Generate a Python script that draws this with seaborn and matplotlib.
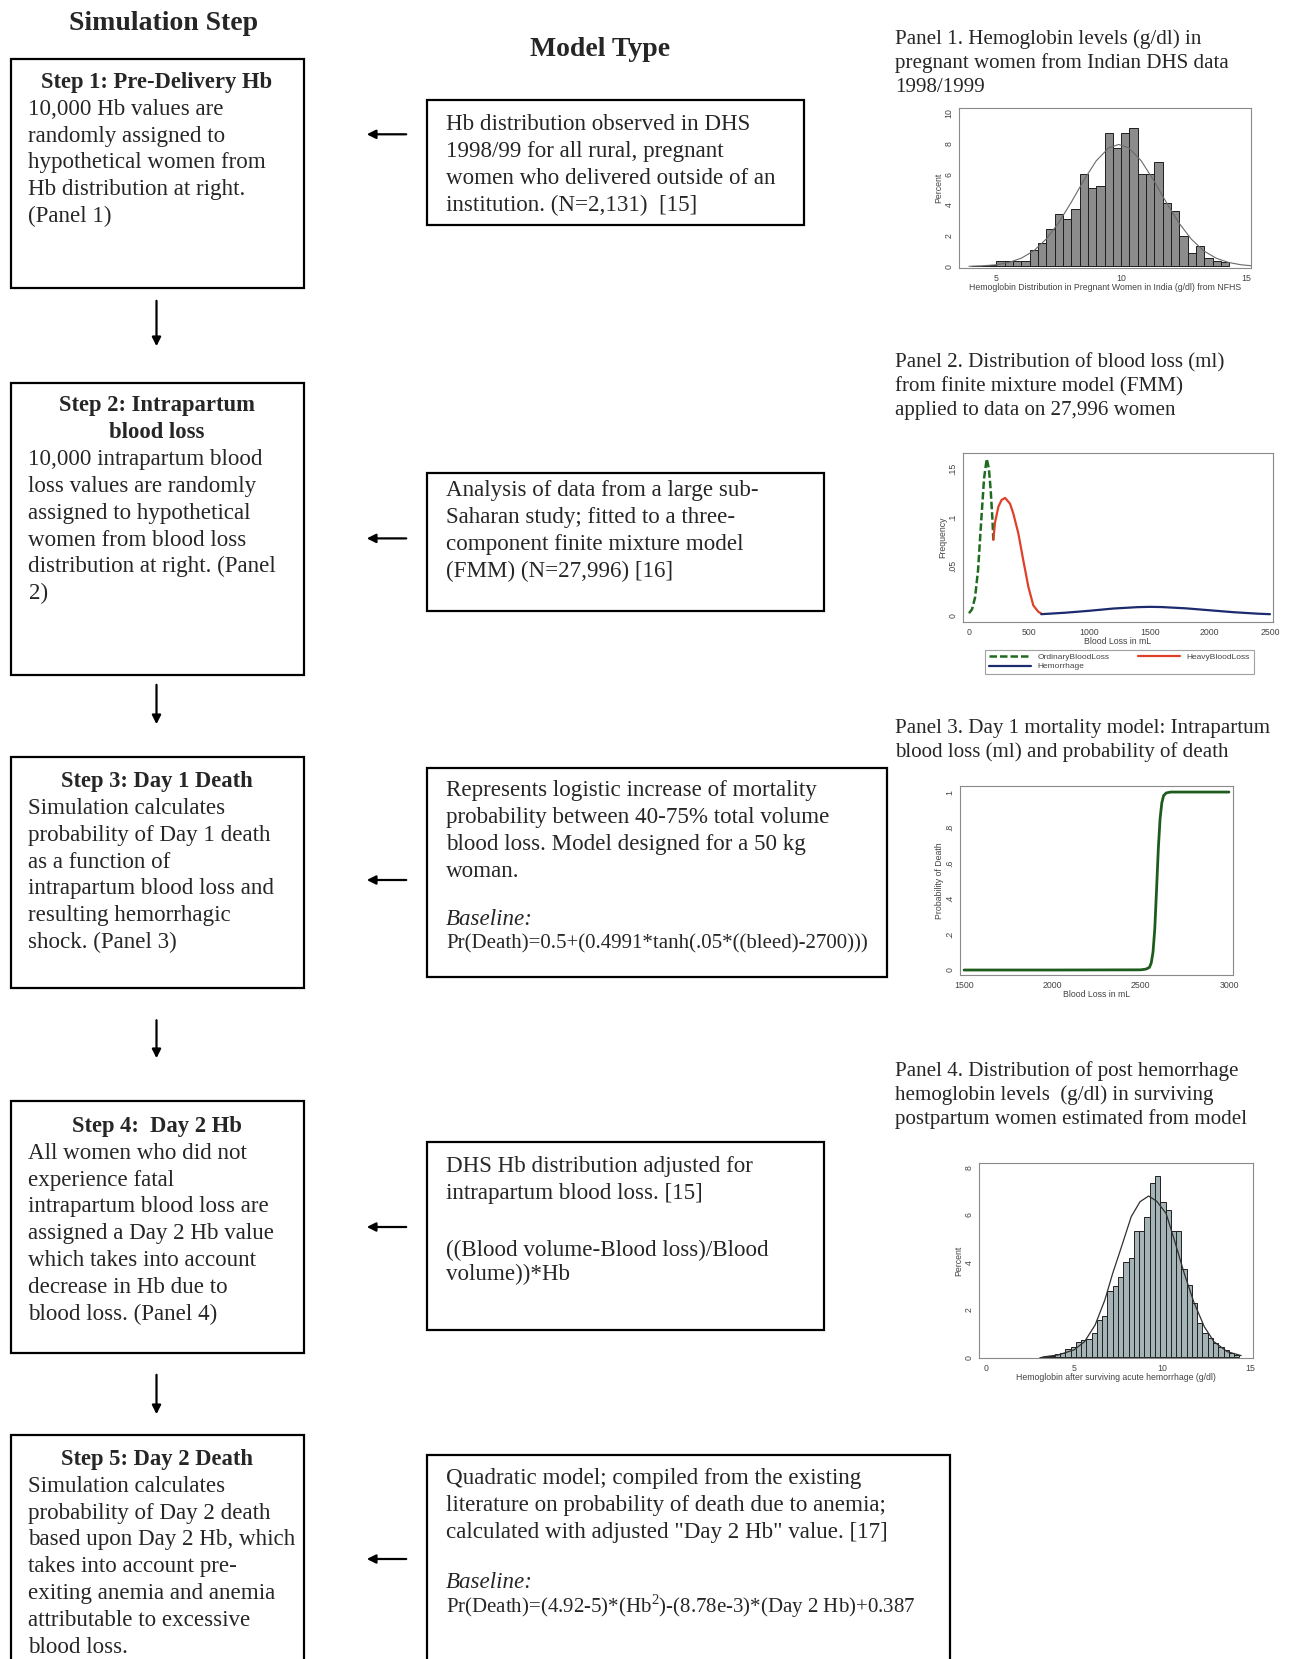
import numpy as np
import matplotlib
matplotlib.use("Agg")
import matplotlib.pyplot as plt
from matplotlib.patches import Rectangle, FancyArrowPatch
from matplotlib.lines import Line2D
import seaborn as sns

# Canvas size in pixels (dpi 100)
W, H = 1302, 1659

# Panel 1: Hb in pregnant women (percent per 1/3 g/dl bin)
p1_bin_left = [4.0, 4.33, 4.67, 5.0, 5.33, 5.67, 6.0, 6.33, 6.67, 7.0, 7.33, 7.67,
               8.0, 8.33, 8.67, 9.0, 9.33, 9.67, 10.0, 10.33, 10.67, 11.0, 11.33,
               11.67, 12.0, 12.33, 12.67, 13.0, 13.33, 13.67, 14.0]
p1_percent = [0.05, 0.05, 0.1, 0.35, 0.35, 0.35, 0.35, 1.05, 1.5, 2.45, 3.4, 3.1,
              3.75, 6.0, 5.1, 5.2, 8.65, 7.7, 8.65, 9.0, 6.0, 6.0, 6.8,
              4.1, 3.6, 2.0, 0.9, 1.3, 0.55, 0.35, 0.3]
p1_curve_x = [3.9, 4.5, 5.0, 5.5, 6.0, 6.5, 7.0, 7.5, 8.0, 8.5, 9.0, 9.5, 9.9,
              10.3, 10.8, 11.3, 11.8, 12.3, 12.8, 13.3, 13.8, 14.3, 14.8, 15.2]
p1_curve_y = [0.01, 0.05, 0.11, 0.26, 0.54, 1.02, 1.79, 2.86, 4.18, 5.6, 6.87, 7.71, 7.93,
              7.71, 6.87, 5.6, 4.18, 2.86, 1.79, 1.02, 0.54, 0.26, 0.11, 0.05]

# Panel 2: finite mixture model components
ordinary_x = [0, 25, 50, 75, 100, 125, 147, 165, 180, 195, 202]
ordinary_y = [0.002, 0.006, 0.018, 0.046, 0.094, 0.14, 0.16, 0.15, 0.128, 0.097, 0.077]
heavy_x = [202, 216, 244, 271, 300, 341, 368, 410, 451, 493, 534, 576, 600]
heavy_y = [0.077, 0.095, 0.111, 0.118, 0.12, 0.114, 0.104, 0.0835, 0.056, 0.029, 0.010, 0.0034, 0.0017]
hemorrhage_x = [600, 800, 1000, 1200, 1400, 1500, 1600, 1800, 2000, 2200, 2400, 2500]
hemorrhage_y = [0.001, 0.0025, 0.0045, 0.0068, 0.0082, 0.0085, 0.0083, 0.007, 0.005, 0.003, 0.0015, 0.001]

# Panel 3: day 1 probability of death vs blood loss
p3_loss = [1500, 2000, 2500, 2530, 2550, 2560, 2570, 2580, 2590, 2600, 2610, 2620, 2630, 2645, 2670, 3000]
p3_prob = [0, 0, 0.001, 0.005, 0.015, 0.04, 0.1, 0.23, 0.45, 0.68, 0.85, 0.94, 0.98, 0.995, 1.0, 1.0]

# Panel 4: post hemorrhage Hb (percent per 0.3 g/dl bin)
p4_bin_left = [3.0, 3.3, 3.6, 3.9, 4.2, 4.5, 4.8, 5.1, 5.4, 5.7, 6.0, 6.3, 6.6, 6.9, 7.2,
               7.5, 7.8, 8.1, 8.4, 8.7, 9.0, 9.3, 9.6, 9.9, 10.2, 10.5, 10.8, 11.1,
               11.4, 11.7, 12.0, 12.3, 12.6, 12.9, 13.2, 13.5, 13.8, 14.1]
p4_percent = [0.02, 0.04, 0.07, 0.13, 0.2, 0.34, 0.45, 0.66, 0.73, 0.76, 1.04, 1.58, 1.75,
              2.8, 3.0, 3.38, 4.0, 4.2, 5.33, 5.33, 5.92, 7.35, 7.63, 6.55, 6.2, 5.33,
              5.33, 3.7, 3.05, 2.27, 1.43, 1.01, 0.8, 0.62, 0.45, 0.31, 0.2, 0.1]
p4_curve_x = [3.2, 4.1, 5.0, 5.6, 6.2, 6.75, 7.2, 7.7, 8.25, 8.75, 9.24, 9.7,
              10.23, 10.7, 11.26, 11.8, 12.4, 12.95, 13.7, 14.5]
p4_curve_y = [0.01, 0.1, 0.31, 0.66, 1.36, 2.41, 3.54, 4.66, 5.92, 6.55, 6.79, 6.57,
              6.06, 4.94, 3.54, 2.34, 1.29, 0.66, 0.24, 0.07]

# Flowchart texts
step_titles = [
    ["Step 1: Pre-Delivery Hb"],
    ["Step 2: Intrapartum", "blood loss"],
    ["Step 3: Day 1 Death"],
    ["Step 4:  Day 2 Hb"],
    ["Step 5: Day 2 Death"],
]
step_bodies = [
    ["10,000 Hb values are", "randomly assigned to", "hypothetical women from",
     "Hb distribution at right.", "(Panel 1)"],
    ["10,000 intrapartum blood", "loss values are randomly", "assigned to hypothetical",
     "women from blood loss", "distribution at right. (Panel", "2)"],
    ["Simulation calculates", "probability of Day 1 death", "as a function of",
     "intrapartum blood loss and", "resulting hemorrhagic", "shock. (Panel 3)"],
    ["All women who did not", "experience fatal", "intrapartum blood loss are",
     "assigned a Day 2 Hb value", "which takes into account", "decrease in Hb due to",
     "blood loss. (Panel 4)"],
    ["Simulation calculates", "probability of Day 2 death", "based upon Day 2 Hb, which",
     "takes into account pre-", "exiting anemia and anemia", "attributable to excessive",
     "blood loss."],
]
model_texts = [
    ["Hb distribution observed in DHS", "1998/99 for all rural, pregnant",
     "women who delivered outside of an", "institution. (N=2,131)  [15]"],
    ["Analysis of data from a large sub-", "Saharan study; fitted to a three-",
     "component finite mixture model", "(FMM) (N=27,996) [16]"],
    ["Represents logistic increase of mortality", "probability between 40-75% total volume",
     "blood loss. Model designed for a 50 kg", "woman."],
    ["DHS Hb distribution adjusted for", "intrapartum blood loss. [15]"],
    ["Quadratic model; compiled from the existing",
     "literature on probability of death due to anemia;",
     "calculated with adjusted \"Day 2 Hb\" value. [17]"],
]
model_extra = [
    [],
    [],
    [("Baseline:", "italic"), ("Pr(Death)=0.5+(0.4991*tanh(.05*((bleed)-2700)))", "normal")],
    [("((Blood volume-Blood loss)/Blood", "normal"), ("volume))*Hb", "normal")],
    [("Baseline:", "italic"), ("Pr(Death)=(4.92-5)*(Hb$^{2}$)-(8.78e-3)*(Day 2 Hb)+0.387", "normal")],
]
panel_titles = [
    ["Panel 1. Hemoglobin levels (g/dl) in", "pregnant women from Indian DHS data", "1998/1999"],
    ["Panel 2. Distribution of blood loss (ml)", "from finite mixture model (FMM)",
     "applied to data on 27,996 women"],
    ["Panel 3. Day 1 mortality model: Intrapartum", "blood loss (ml) and probability of death"],
    ["Panel 4. Distribution of post hemorrhage", "hemoglobin levels  (g/dl) in surviving",
     "postpartum women estimated from model"],
]

# Layout (pixel coordinates, y down)
STEP_BOXES = [(10.6, 59, 303.5, 288), (10.6, 383, 303.5, 675), (10.6, 757, 303.5, 988),
              (10.6, 1101, 303.5, 1353), (10.6, 1435, 303.5, 1680)]
STEP_TITLE_Y = [82.5, 406, 781.6, 1126.5, 1459.6]
MODEL_BOXES = [(427, 100, 804, 225), (427, 473, 824, 611), (427, 768, 887, 977),
               (427, 1142, 824, 1330), (427, 1455, 950, 1680)]
MODEL_TEXT_Y = [124.8, 490.8, 791, 1166.6, 1478.6]
MODEL_EXTRA_Y = [0, 0, 920, 1250, 1582.5]
LEFT_ARROW_Y = [134.3, 538.4, 880, 1227, 1559]
DOWN_ARROWS = [(298, 349), (682, 727), (1017.5, 1061), (1372, 1417)]
PANEL_TITLE_Y = [39, 363, 728, 1071]
PANEL_TITLE_X = 895
LINE = 26.8

SERIF = ["Liberation Serif", "DejaVu Serif"]
SANS = ["Liberation Sans", "DejaVu Sans"]


def fx(x):
    return x / W


def fy(y):
    return 1 - y / H


def put(fig, x, y, s, **kw):
    fig.text(fx(x), fy(y), s, va="center", family=SERIF, **kw)


def draw_box(fig, box):
    x0, y0, x1, y1 = box
    fig.add_artist(Rectangle((fx(x0), fy(y1)), (x1 - x0) / W, (y1 - y0) / H,
                             transform=fig.transFigure, fill=False, lw=1.6, ec="black"))


def add_axes(fig, left, top, right, bottom):
    return fig.add_axes([fx(left), fy(bottom), (right - left) / W, (bottom - top) / H])


def style_axes(ax, xticks, yticks, ylabels, xlabel, ylabel):
    ax.set_facecolor("white")
    for sp in ax.spines.values():
        sp.set_color("#8a8a8a")
        sp.set_linewidth(0.8)
    ax.set_xticks(xticks)
    ax.set_yticks(yticks)
    ax.set_yticklabels(ylabels)
    ax.tick_params(length=2.5, width=0.6, labelsize=6.3, colors="#444444", pad=1.5)
    ax.tick_params(axis="y", labelrotation=90)
    for lbl in ax.get_yticklabels():
        lbl.set_va("center")
    ax.set_xlabel(xlabel, fontsize=6.3, color="#444444", labelpad=0.5, family=SANS)
    ax.set_ylabel(ylabel, fontsize=6.3, color="#444444", labelpad=1, family=SANS)
    plt.setp(ax.get_xticklabels() + ax.get_yticklabels(), family=SANS)


def main():
    sns.set_style("white")
    plt.rcParams["font.family"] = SERIF
    plt.rcParams["mathtext.fontset"] = "custom"
    plt.rcParams["mathtext.rm"] = "Liberation Serif"

    fig = plt.figure(figsize=(W / 100, H / 100), dpi=100)

    # Column headers
    put(fig, 164, 24, "Simulation Step", fontsize=20, fontweight="bold", ha="center")
    put(fig, 600, 49, "Model Type", fontsize=20, fontweight="bold", ha="center")

    # Left column: simulation steps
    for i, box in enumerate(STEP_BOXES):
        draw_box(fig, box)
        cx = (box[0] + box[2]) / 2
        y = STEP_TITLE_Y[i]
        for t in step_titles[i]:
            put(fig, cx, y, t, fontsize=16.3, fontweight="bold", ha="center")
            y += LINE
        for t in step_bodies[i]:
            put(fig, 28.5, y, t, fontsize=16.6, ha="left")
            y += LINE

    # Middle column: model descriptions
    for i, box in enumerate(MODEL_BOXES):
        draw_box(fig, box)
        y = MODEL_TEXT_Y[i]
        for t in model_texts[i]:
            put(fig, 446, y, t, fontsize=16.6, ha="left")
            y += LINE
        y = MODEL_EXTRA_Y[i]
        for t, st in model_extra[i]:
            size = 15 if t.startswith("Pr(") else 16.6
            put(fig, 446, y, t, fontsize=size, ha="left", style=st)
            y += 24

    # Arrows
    for y in LEFT_ARROW_Y:
        fig.add_artist(FancyArrowPatch((fx(409), fy(y)), (fx(364), fy(y)),
                                       transform=fig.transFigure, arrowstyle="-|>",
                                       mutation_scale=13, lw=1.6, color="black"))
    for y0, y1 in DOWN_ARROWS:
        fig.add_artist(FancyArrowPatch((fx(156.5), fy(y0)), (fx(156.5), fy(y1)),
                                       transform=fig.transFigure, arrowstyle="-|>",
                                       mutation_scale=13, lw=1.6, color="black"))

    # Panel titles
    for i, lines in enumerate(panel_titles):
        y = PANEL_TITLE_Y[i]
        for t in lines:
            put(fig, PANEL_TITLE_X, y, t, fontsize=15.1, ha="left")
            y += 24

    # Panel 1
    ax1 = add_axes(fig, 959, 108, 1251, 268)
    edges1 = p1_bin_left + [14.33]
    sns.histplot(x=np.array(p1_bin_left) + 0.1, weights=p1_percent, bins=edges1, stat="count",
                 color="#8c8c8c", edgecolor="#1e1e1e", linewidth=0.7, alpha=1, ax=ax1)
    sns.lineplot(x=p1_curve_x, y=p1_curve_y, color="#6a6a6a", linewidth=0.8, ax=ax1)
    ax1.set_xlim(3.5, 15.2)
    ax1.set_ylim(-0.1, 10.3)
    style_axes(ax1, [5, 10, 15], [0, 2, 4, 6, 8, 10], ["0", "2", "4", "6", "8", "10"],
               "Hemoglobin Distribution in Pregnant Women in India (g/dl) from NFHS", "Percent")

    # Panel 2
    ax2 = add_axes(fig, 963, 453, 1273, 622)
    sns.lineplot(x=ordinary_x, y=ordinary_y, color="#1f6b1f", linewidth=1.8,
                 linestyle=(0, (3, 1.2)), label="OrdinaryBloodLoss", ax=ax2)
    sns.lineplot(x=heavy_x, y=heavy_y, color="#e0402a", linewidth=1.6,
                 label="HeavyBloodLoss", ax=ax2)
    sns.lineplot(x=hemorrhage_x, y=hemorrhage_y, color="#1c2a6e", linewidth=1.6,
                 label="Hemorrhage", ax=ax2)
    if ax2.get_legend() is not None:
        ax2.get_legend().remove()
    ax2.set_xlim(-50, 2525)
    ax2.set_ylim(-0.007, 0.166)
    style_axes(ax2, [0, 500, 1000, 1500, 2000, 2500], [0, 0.05, 0.1, 0.15],
               ["0", ".05", ".1", ".15"], "Blood Loss in mL", "Frequency")
    handles = [
        Line2D([], [], color="#1f6b1f", lw=1.8, linestyle=(0, (3, 1.2))),
        Line2D([], [], color="#1c2a6e", lw=1.6),
        Line2D([], [], color="#e0402a", lw=1.6),
    ]
    leg = fig.legend(handles, ["OrdinaryBloodLoss", "Hemorrhage", "HeavyBloodLoss"],
                     loc="center", bbox_to_anchor=(fx(1119.5), fy(662)), ncol=2,
                     prop={"family": SANS, "size": 6}, frameon=True, fancybox=False,
                     edgecolor="#8a8a8a", handlelength=5, columnspacing=3.5,
                     borderpad=0.45, labelspacing=0.15, handletextpad=0.8)
    leg.get_frame().set_linewidth(0.8)
    for txt in leg.get_texts():
        txt.set_color("#444444")

    # Panel 3
    ax3 = add_axes(fig, 960, 786, 1233, 975)
    sns.lineplot(x=p3_loss, y=p3_prob, color="#1d5c1d", linewidth=2, ax=ax3)
    ax3.set_xlim(1477, 3023)
    ax3.set_ylim(-0.028, 1.034)
    style_axes(ax3, [1500, 2000, 2500, 3000], [0, 0.2, 0.4, 0.6, 0.8, 1],
               ["0", ".2", ".4", ".6", ".8", "1"], "Blood Loss in mL", "Probability of Death")

    # Panel 4
    ax4 = add_axes(fig, 979, 1163, 1253, 1358)
    edges4 = p4_bin_left + [14.4]
    sns.histplot(x=np.array(p4_bin_left) + 0.1, weights=p4_percent, bins=edges4, stat="count",
                 color="#a3b3b6", edgecolor="#202020", linewidth=0.7, alpha=1, ax=ax4)
    sns.lineplot(x=p4_curve_x, y=p4_curve_y, color="#303030", linewidth=0.9, ax=ax4)
    ax4.set_xlim(-0.4, 15.17)
    ax4.set_ylim(-0.03, 8.18)
    style_axes(ax4, [0, 5, 10, 15], [0, 2, 4, 6, 8], ["0", "2", "4", "6", "8"],
               "Hemoglobin after surviving acute hemorrhage (g/dl)", "Percent")

    fig.savefig("out.png", dpi=100, facecolor="white")


if __name__ == "__main__":
    main()
